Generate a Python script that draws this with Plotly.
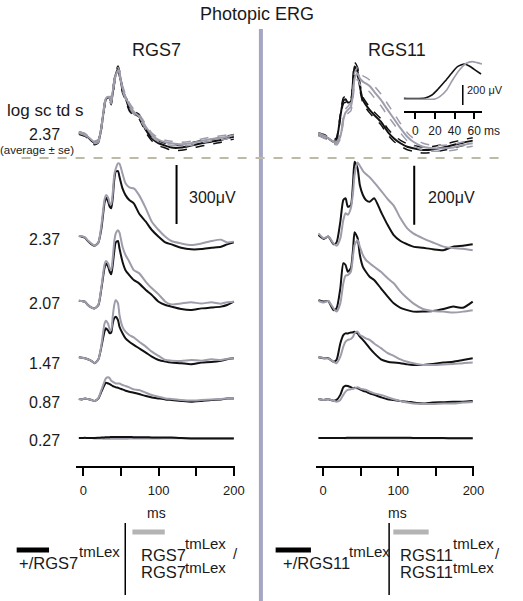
import plotly.graph_objects as go

W, H = 523, 601

# ---------------- data (µV vs ms) ----------------
intensities = ["2.37", "2.07", "1.47", "0.87", "0.27"]

# RGS7 column time grid (ms)
t_rgs7 = [-6, -2, 2, 6, 11, 15, 20, 24, 28, 30, 33, 35, 37, 39, 41, 43, 46, 48, 52, 56,
          61, 67, 74, 83, 91, 100, 109, 117, 130, 143, 157, 170, 183, 191, 200]

# +/RGS7tmLex (black)
rgs7_het_237 = [3, 0, -5, -22, -39, -46, -29, 42, 169, 198, 177, 152, 144, 194, 287, 330, 333, 304, 245, 211,
                186, 169, 118, 76, 34, 0, -29, -39, -56, -64, -63, -56, -51, -39, -29]
rgs7_het_207 = [0, -2, -5, -22, -35, -39, -22, 63, 164, 189, 172, 147, 134, 181, 248, 296, 303, 265, 198, 155,
                130, 105, 88, 54, 29, -5, -22, -30, -42, -47, -39, -35, -30, -22, -5]
rgs7_het_147 = [0, -2, -5, -10, -19, -30, -10, 54, 130, 147, 135, 122, 125, 172, 198, 206, 189, 155, 122, 96,
                79, 63, 46, 24, 3, -14, -22, -27, -30, -35, -27, -24, -17, -10, -5]
rgs7_het_087 = [0, -2, 3, 0, -5, -10, 3, 37, 71, 83, 79, 76, 71, 66, 63, 59, 57, 54, 49, 42,
                37, 32, 25, 15, 8, 3, -2, -5, -10, -14, -10, -5, -2, 2, 2]
rgs7_het_027 = [0, 0, 1, 0, 0, 0, 1, 2, 3, 4, 4, 4, 5, 5, 5, 5, 5, 5, 5, 5,
                5, 4, 4, 4, 3, 3, 2, 2, 0, -2, -3, -3, -3, -3, -3]
# RGS7tmLex/RGS7tmLex (gray)
rgs7_hom_237 = [3, 2, -3, -19, -36, -46, -29, 59, 186, 211, 198, 169, 164, 220, 313, 345, 372, 370, 320, 271,
                250, 245, 211, 144, 76, 34, 0, -22, -34, -42, -34, -22, -15, -29, -25]
rgs7_hom_207 = [0, -2, -5, -22, -35, -39, -19, 71, 181, 201, 189, 164, 155, 215, 299, 341, 358, 346, 274, 232,
                198, 155, 140, 96, 63, 32, -5, -19, -14, -8, -14, -8, -15, -8, -5]
rgs7_hom_147 = [0, -2, -5, -10, -19, -30, -10, 63, 169, 186, 169, 142, 139, 206, 265, 291, 274, 215, 155, 130,
                113, 101, 79, 54, 29, 7, -14, -17, -19, -14, -17, -10, -14, -8, -5]
rgs7_hom_087 = [0, -2, 3, 0, -5, -10, 5, 46, 88, 105, 110, 105, 93, 88, 83, 79, 79, 79, 71, 66,
                59, 49, 46, 32, 20, 12, 3, 0, -5, -8, -5, -2, 0, 2, 2]
rgs7_hom_027 = [0, 0, 0, 0, 0, -2, -3, -3, -4, -4, -4, -4, -4, -4, -4, -4, -4, -4, -4, -4,
                -3, -3, -3, -2, -2, -2, -1, -1, -1, -1, -1, -1, -1, -1, -1]
# averages at 2.37 (mean and se)
rgs7_het_avg = [5, 0, -5, -17, -35, -47, -37, 34, 144, 176, 186, 181, 160, 206, 262, 302, 330, 308, 223, 184,
                130, 105, 88, 20, -22, -47, -59, -69, -69, -59, -47, -39, -30, -22, -14]
rgs7_het_se = [6, 6, 6, 6, 6, 8, 8, 10, 12, 12, 12, 12, 12, 14, 15, 15, 15, 15, 14, 12,
               12, 12, 12, 12, 12, 12, 12, 14, 14, 14, 14, 12, 12, 12, 12]
rgs7_hom_avg = [8, 3, -2, -14, -30, -42, -35, 37, 147, 181, 189, 184, 164, 215, 265, 299, 324, 307, 232, 189,
                147, 113, 88, 37, -5, -30, -42, -47, -52, -47, -35, -25, -19, -14, -5]
rgs7_hom_se = [5, 5, 5, 5, 6, 6, 8, 10, 10, 12, 12, 12, 12, 12, 14, 14, 14, 14, 14, 12,
               12, 12, 12, 12, 10, 10, 10, 10, 10, 10, 10, 10, 10, 10, 10]

# RGS11 column time grid (ms)
t_rgs11 = [-6, 1, 7, 14, 18, 23, 27, 30, 33, 37, 40, 42, 46, 49, 53, 57, 62, 68, 77, 86,
           94, 103, 112, 120, 133, 146, 160, 173, 186, 199]

rgs11_het_237 = [2, -11, -3, -29, -23, 47, 121, 127, 98, 104, 183, 251, 228, 171, 138, 121, 115, 127, 81, 36,
                 2, -18, -29, -37, -41, -46, -49, -37, -34, -29]
rgs11_het_207 = [2, -3, -1, -32, -26, 42, 127, 121, 98, 110, 177, 232, 212, 155, 115, 98, 81, 70, 42, 14,
                 -9, -24, -32, -37, -37, -35, -28, -20, -24, -3]
rgs11_het_147 = [0, -3, -3, -15, -9, 47, 75, 81, 81, 84, 85, 87, 81, 70, 59, 47, 31, 14, -7, -15,
                 -18, -20, -24, -26, -26, -23, -18, -15, -9, -3]
rgs11_het_087 = [0, -3, -1, -6, -3, 14, 40, 45, 44, 40, 36, 38, 36, 33, 28, 25, 19, 14, 6, -1,
                 -3, -7, -9, -12, -15, -12, -11, -9, -9, -7]
rgs11_het_027 = [0, 0, 0, 0, 0, 0, 0, 0, 1, 1, 1, 1, 1, 1, 1, 1, 1, 1, 1, 1,
                 1, 1, 1, 0, 0, 0, 0, -1, -1, -1]
rgs11_hom_237 = [8, -9, -3, -26, -34, -9, 53, 76, 71, 93, 149, 206, 248, 237, 220, 209, 198, 181, 153, 124,
                 102, 59, 25, 8, -9, -23, -37, -42, -44, -49]
rgs11_hom_207 = [-1, -6, -1, -26, -37, -9, 59, 85, 87, 98, 155, 189, 206, 183, 155, 138, 127, 115, 98, 76,
                 59, 31, 8, -9, -28, -35, -37, -40, -37, -32]
rgs11_hom_147 = [0, -3, -4, -15, -20, 2, 36, 53, 59, 62, 70, 81, 87, 76, 70, 64, 59, 47, 31, 14,
                 5, -7, -15, -20, -26, -26, -24, -23, -20, -18]
rgs11_hom_087 = [0, -3, -1, -6, -9, -3, 14, 25, 31, 33, 36, 36, 40, 36, 33, 31, 25, 19, 14, 6,
                 -1, -7, -12, -15, -17, -17, -15, -15, -12, -10]
rgs11_hom_027 = [0, 0, 0, 0, 0, 0, 0, -1, -1, -1, -1, -1, -1, -1, -1, -1, -1, -1, -1, -1,
                 -1, -1, -1, -1, -1, -1, -1, -1, -1, -1]
rgs11_het_avg = [3, -3, -11, -23, -15, 62, 116, 121, 110, 113, 186, 232, 215, 164, 119, 102, 85, 68, 45, 11,
                 -11, -28, -40, -45, -51, -49, -42, -34, -26, -19]
rgs11_het_se = [5, 5, 5, 6, 6, 8, 10, 10, 10, 10, 12, 14, 14, 12, 10, 10, 10, 10, 10, 10,
                10, 10, 10, 10, 10, 10, 10, 10, 10, 10]
rgs11_hom_avg = [3, -6, -11, -23, -28, -6, 51, 76, 85, 96, 141, 192, 209, 192, 181, 175, 166, 147, 119, 85,
                 56, 23, -6, -23, -40, -45, -45, -42, -34, -28]
rgs11_hom_se = [5, 5, 5, 6, 6, 8, 10, 12, 12, 14, 16, 18, 20, 20, 20, 20, 20, 20, 20, 20,
                18, 16, 14, 12, 12, 10, 10, 10, 10, 10]

# inset (RGS11, first 60 ms)
t_inset_het = [-12, 0, 10, 17, 23, 30, 37, 43, 50, 55, 60, 67]
inset_het = [0, -3, 3, 33, 90, 167, 250, 317, 343, 323, 290, 243]
t_inset_hom = [-12, 10, 20, 25, 32, 38, 45, 52, 58, 63, 68]
inset_hom = [-10, -10, -7, 17, 83, 183, 283, 350, 367, 357, 343]

main_ticks = [0, 50, 100, 150, 200]
main_ticktext = ["0", " ", "100", " ", "200"]
inset_ticks = [0, 20, 40, 60]
inset_ticktext = ["0", "20", "40", "60"]

# ---------------- styling / layout constants ----------------
BLACK = "#111111"
GRAY = "#9d9dab"
FONT = "Liberation Sans, Arial, sans-serif"


def py(p):
    return 1 - p / H


def px(p):
    return p / W


def ydom(base, lo, hi, s):
    return [py(base - lo * s), py(base - hi * s)]


SX = 0.767          # px per ms
SL = 0.197          # px per µV, RGS7 column
SR = 0.295          # px per µV, RGS11 column
LRANGE = [-120, 420]
RRANGE = [-100, 280]
left_bases = [134, 236.7, 300.7, 357.3, 399, 438]
right_bases = [135, 235.7, 300.7, 357.3, 399, 438]

fig = go.Figure()


def add(x, y, xa, ya, color, width=2, dash=None):
    fig.add_trace(go.Scatter(x=x, y=y, xaxis=xa, yaxis=ya, mode="lines",
                             line=dict(color=color, width=width, dash=dash,
                                       shape="spline", smoothing=0.6),
                             hoverinfo="skip", showlegend=False))


# top averages
for (t, avg, se, col, xa, ya) in [
        (t_rgs7, rgs7_het_avg, rgs7_het_se, BLACK, "x", "y"),
        (t_rgs7, rgs7_hom_avg, rgs7_hom_se, GRAY, "x", "y"),
        (t_rgs11, rgs11_het_avg, rgs11_het_se, BLACK, "x2", "y7"),
        (t_rgs11, rgs11_hom_avg, rgs11_hom_se, GRAY, "x2", "y7")]:
    add(t, [a + s for a, s in zip(avg, se)], xa, ya, col, 1.5, "dash")
    add(t, [a - s for a, s in zip(avg, se)], xa, ya, col, 1.5, "dash")
    add(t, avg, xa, ya, col, 2)

left_het = [rgs7_het_237, rgs7_het_207, rgs7_het_147, rgs7_het_087, rgs7_het_027]
left_hom = [rgs7_hom_237, rgs7_hom_207, rgs7_hom_147, rgs7_hom_087, rgs7_hom_027]
right_het = [rgs11_het_237, rgs11_het_207, rgs11_het_147, rgs11_het_087, rgs11_het_027]
right_hom = [rgs11_hom_237, rgs11_hom_207, rgs11_hom_147, rgs11_hom_087, rgs11_hom_027]

for i in range(5):
    yl = f"y{2 + i}"
    yr = f"y{8 + i}"
    if i < 4:
        add(t_rgs7, left_het[i], "x", yl, BLACK)
        add(t_rgs7, left_hom[i], "x", yl, GRAY)
        add(t_rgs11, right_het[i], "x2", yr, BLACK)
        add(t_rgs11, right_hom[i], "x2", yr, GRAY)
    else:
        add(t_rgs7, left_hom[i], "x", yl, GRAY)
        add(t_rgs7, left_het[i], "x", yl, BLACK)
        add(t_rgs11, right_hom[i], "x2", yr, GRAY)
        add(t_rgs11, right_het[i], "x2", yr, BLACK)

add(t_inset_het, inset_het, "x3", "y13", BLACK, 1.6)
add(t_inset_hom, inset_hom, "x3", "y13", GRAY, 1.6)

layout = dict(
    width=W, height=H, margin=dict(l=0, r=0, t=0, b=0),
    paper_bgcolor="white", plot_bgcolor="rgba(0,0,0,0)",
    showlegend=False, font=dict(family=FONT, color="#1a1a1a"),
)

xcommon = dict(showgrid=False, zeroline=False, showline=True, linecolor="black", linewidth=2,
               ticks="outside", tickcolor="black", tickwidth=2, ticklen=8,
               tickfont=dict(size=13, family=FONT, color="#1a1a1a"), anchor="free",
               position=py(467), ticklabelstandoff=3, fixedrange=True)
layout["xaxis"] = dict(domain=[px(77.5), px(239.5)], range=[(77.5 - 85) / SX, (239.5 - 85) / SX],
                       tickvals=main_ticks, ticktext=main_ticktext, **xcommon)
layout["xaxis2"] = dict(domain=[px(321.7), px(483.3)], range=[(321.7 - 329.3) / SX, (483.3 - 329.3) / SX],
                        tickvals=main_ticks, ticktext=main_ticktext, **xcommon)
layout["xaxis3"] = dict(domain=[px(411.7), px(491.7)], range=[-11.7, 68.3],
                        tickvals=inset_ticks, ticktext=inset_ticktext,
                        showgrid=False, zeroline=False, showline=True, linecolor="black", linewidth=1.5,
                        ticks="outside", tickcolor="black", tickwidth=1.5, ticklen=6,
                        tickfont=dict(size=12, family=FONT, color="#1a1a1a"), anchor="free",
                        position=py(112.3), ticklabelstandoff=2, fixedrange=True)

for k in range(6):
    name = "yaxis" if k == 0 else f"yaxis{k + 1}"
    layout[name] = dict(domain=ydom(left_bases[k], LRANGE[0], LRANGE[1], SL), range=LRANGE,
                        visible=False, anchor="x", fixedrange=True)
    layout[f"yaxis{k + 7}"] = dict(domain=ydom(right_bases[k], RRANGE[0], RRANGE[1], SR), range=RRANGE,
                                   visible=False, anchor="x2", fixedrange=True)
layout["yaxis13"] = dict(domain=ydom(98.3, -100, 450, 0.1), range=[-100, 450],
                         visible=False, anchor="x3", fixedrange=True)

shapes = []
# separator lines
shapes.append(dict(type="line", xref="paper", yref="paper", x0=px(266), x1=px(266), y0=py(29), y1=py(601),
                   line=dict(color="#a5a5c4", width=4)))
shapes.append(dict(type="line", xref="paper", yref="paper", x0=px(22), x1=px(515), y0=py(158), y1=py(158),
                   line=dict(color="#bdbaa8", width=2, dash="dash")))
# scale bars
shapes.append(dict(type="line", xref="x", yref="y2", x0=(180 - 85) / SX, x1=(180 - 85) / SX, y0=64, y1=364,
                   line=dict(color="black", width=2)))
shapes.append(dict(type="line", xref="x2", yref="y8", x0=(422.3 - 329.3) / SX, x1=(422.3 - 329.3) / SX,
                   y0=37, y1=237, line=dict(color="black", width=2)))
shapes.append(dict(type="line", xref="x3", yref="y13", x0=48.4, x1=48.4, y0=-67, y1=133,
                   line=dict(color="black", width=1.5)))
# legend marks
for (x0, x1, y, c) in [(17, 50, 550, "black"), (281, 317, 550, "black"),
                       (135, 168, 532, "#b4b4b4"), (401, 437, 532, "#b4b4b4")]:
    shapes.append(dict(type="line", xref="paper", yref="paper", x0=px(x0), x1=px(x1), y0=py(y), y1=py(y),
                       line=dict(color=c, width=5)))
for x in (127.7, 396.7):
    shapes.append(dict(type="line", xref="paper", yref="paper", x0=px(x), x1=px(x), y0=py(523), y1=py(595),
                       line=dict(color="black", width=1.5)))
layout["shapes"] = shapes

ann = []


def note(text, x, y, size, xanchor="center", yanchor="middle"):
    ann.append(dict(text=text, x=px(x), y=py(y), xref="paper", yref="paper", showarrow=False,
                    xanchor=xanchor, yanchor=yanchor, font=dict(size=size, family=FONT, color="#1a1a1a")))


note("Photopic ERG", 262, 14, 18)
note("RGS7", 160, 50, 18)
note("RGS11", 405, 50, 18)
note("log sc td s", 46, 110, 17)
note("2.37", 63, 134, 16, "right")
note("(average ± se)", 38, 150, 11.5)
for lab, yy in zip(intensities, [239, 303, 363, 402, 440]):
    note(lab, 63, yy, 16, "right")
note("300μV", 191, 198, 16, "left")
note("200μV", 434, 198, 16, "left")
note("200 μV", 474, 90, 11, "left")
note("ms", 502, 131, 12)
note("ms", 160, 513, 14)
note("ms", 405, 513, 14)

# legend texts (genotype names with raised "tmLex")
LEG = 16.5
SUP = 15
note("+/RGS7", 17, 563, LEG, "left")
note("tmLex", 79, 551, SUP, "left")
note("RGS7", 142, 555, LEG, "left")
note("tmLex", 187, 543, SUP, "left")
note("/", 240, 553, 15)
note("RGS7", 142, 572, LEG, "left")
note("tmLex", 187, 567, SUP, "left")
note("+/RGS11", 286, 563, LEG, "left")
note("tmLex", 354, 551, SUP, "left")
note("RGS11", 406, 555, LEG, "left")
note("tmLex", 460, 543, SUP, "left")
note("/", 507, 553, 15)
note("RGS11", 406, 572, LEG, "left")
note("tmLex", 460, 567, SUP, "left")
layout["annotations"] = ann

fig.update_layout(**layout)
fig.write_html("out.html", config={"displayModeBar": False},
               post_script="document.body.style.margin='0px';")
